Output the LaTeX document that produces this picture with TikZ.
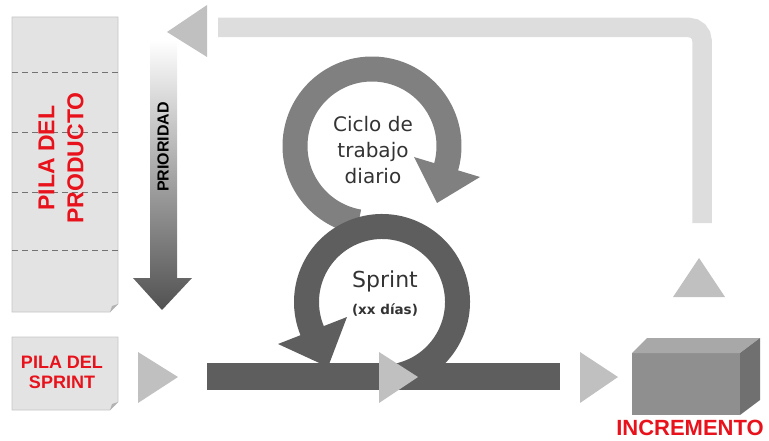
\documentclass[tikz,border=0pt]{standalone}
\usepackage{fontspec}
\newfontfamily\arial{Liberation Sans}
\newfontfamily\verdana{DejaVu Sans}
\definecolor{retorno}{RGB}{221,221,221}
\definecolor{punta}{RGB}{192,192,192}
\definecolor{oscuro}{RGB}{94,94,94}
\definecolor{medio}{RGB}{128,128,128}
\definecolor{papel}{RGB}{227,227,227}
\definecolor{rojo}{RGB}{232,18,28}
\tikzset{
  hoja/.style={fill=papel, draw=gray!45, line width=0.6pt},
  pliegue/.style={fill=gray!60},
  tri/.style={fill=punta},
  anillo/.style={line width=25pt},
  rotulo/.style={text=rojo, font=\arial\bfseries, align=center, inner sep=0pt},
  texto/.style={text=black!80, font=\verdana, align=center, inner sep=0pt}
}
\begin{document}
\begin{tikzpicture}[x=1pt,y=-1pt]
\useasboundingbox (0,0) rectangle (769,441);

%--- pila del producto
\draw[hoja] (12,17) -- (118,17) -- (118,304) -- (110,312) -- (12,312) -- cycle;
\fill[pliegue] (118,304) -- (110,312) -- (112,306) -- cycle;
\foreach \y in {72,132,192,250}
  \draw[dash pattern=on 6pt off 4pt, gray!90!black, line width=0.8pt] (12,\y) -- (118,\y);
\node[rotulo, rotate=90, font=\arial\bfseries\fontsize{23}{29}\selectfont] (producto) at (61,158) {PILA DEL\\PRODUCTO};

%--- prioridad
\shade[top color=white, bottom color=black!68, middle color=black!35]
  (150,40) -- (177,40) -- (177,278) -- (192,278) -- (162,310) -- (133,278) -- (150,278) -- cycle;
\node[rotate=90, inner sep=0pt, font=\arial\bfseries\fontsize{16}{16}\selectfont] (prioridad) at (163,147) {PRIORIDAD};

%--- pila del sprint
\draw[hoja] (12,337) -- (118,337) -- (118,402) -- (110,410) -- (12,410) -- cycle;
\fill[pliegue] (118,402) -- (110,410) -- (112,404) -- cycle;
\node[rotulo, font=\arial\bfseries\fontsize{18}{20}\selectfont] (sprintpila) at (62,372) {PILA DEL\\SPRINT};
\fill[tri] (138,352) -- (178,377) -- (138,403) -- cycle;

%--- barra del sprint
\fill[oscuro] (207,363) rectangle (560,390);

%--- ciclo diario
\draw[anillo, medio] (372,146) ++(100:77) arc[start angle=100, end angle=377, radius=77];
\fill[medio] (414,157) -- (480,177) -- (437,203) -- cycle;
\node[texto, font=\verdana\fontsize{20}{26}\selectfont] (diario) at (373,150) {Ciclo de\\trabajo\\diario};

%--- sprint
\draw[anillo, oscuro] (382,302) ++(75:75.5) arc[start angle=75, end angle=-204, radius=75.5];
\fill[oscuro] (347,317) -- (278,344) -- (328,367) -- cycle;
\node[texto, font=\verdana\fontsize{22}{22}\selectfont] (sprint) at (385,281) {Sprint};
\node[texto, font=\verdana\bfseries\fontsize{13.5}{14}\selectfont] (dias) at (385,310) {(xx días)};

\fill[tri] (379,352) -- (418,377) -- (379,403) -- cycle;
\fill[tri] (580,352) -- (618,377) -- (580,403) -- cycle;

%--- incremento
\fill[black!44] (632,353) rectangle (740,415);
\fill[black!34] (632,353) -- (647,338) -- (760,338) -- (740,353) -- cycle;
\fill[black!56] (740,353) -- (760,338) -- (760,400) -- (740,415) -- cycle;
\node[rotulo, font=\arial\bfseries\fontsize{22}{22}\selectfont] (incremento) at (690,428) {INCREMENTO};

%--- retorno
\draw[retorno, line width=19.5pt, rounded corners=13pt] (702,223) -- (702,27.5) -- (218,27.5);
\fill[tri] (207,5) -- (167,32) -- (207,57) -- cycle;
\fill[tri] (673,297) -- (699,258) -- (725,297) -- cycle;
\end{tikzpicture}
\end{document}
